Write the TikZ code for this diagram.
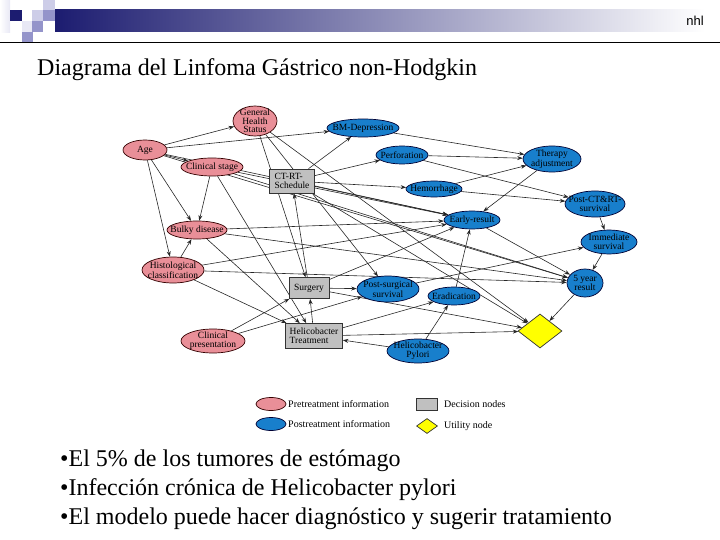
\documentclass[tikz,border=0pt]{standalone}
\usepackage{fontspec}
\setmainfont{Liberation Serif}
\newfontfamily\hdrsans{Liberation Sans}
\usetikzlibrary{shapes.geometric,arrows.meta}
\pgfdeclarelayer{edgelayer}
\pgfsetlayers{edgelayer,main}
\definecolor{pinkfill}{RGB}{233,143,152}
\definecolor{bluefill}{RGB}{24,127,204}
\definecolor{grayfill}{RGB}{192,192,192}
\definecolor{utilyel}{RGB}{255,255,0}
\definecolor{navyhdr}{RGB}{28,28,112}
\definecolor{lavA}{RGB}{148,148,202}
\definecolor{lavB}{RGB}{205,205,232}
\definecolor{lavC}{RGB}{232,232,245}
\tikzset{
  nodefont/.style={font=\fontsize{9.5}{8.6}\selectfont, align=center},
  tx/.style={label={[nodefont, inner sep=0pt]center:#1}},
  pre/.style={ellipse, draw=black!80!red, line width=0.7pt, fill=pinkfill, inner sep=0pt},
  post/.style={ellipse, draw=black!80!blue, line width=0.7pt, fill=bluefill, inner sep=0pt},
  decis/.style={rectangle, draw=black!80, line width=0.7pt, fill=grayfill, inner sep=0pt, nodefont},
  utilnode/.style={diamond, draw=black!80, line width=0.7pt, fill=utilyel, inner sep=0pt},
  arr/.style={-{Stealth[length=5.5pt,width=4pt]}, line width=0.6pt, black!85},
  legtext/.style={anchor=west, inner sep=0pt, font=\fontsize{10}{11}\selectfont},
  bigtext/.style={anchor=base west, inner sep=0pt, font=\fontsize{24}{28}\selectfont}
}
\begin{document}
\begin{tikzpicture}[x=1pt,y=-1pt]
\useasboundingbox (0,0) rectangle (720,540);
% header
\shade[left color=white, right color=lavC] (0,0) rectangle (10,33);
\shade[left color=navyhdr, right color=white] (55,10) rectangle (705,32);
\fill[lavB] (43,0) rectangle (55,10);
\fill[lavB] (32,10) rectangle (43,21);
\fill[lavA] (43,10) rectangle (55,21);
\fill[navyhdr] (10,10) rectangle (22,21);
\fill[lavC] (22,21) rectangle (32,32);
\fill[lavA] (32,21) rectangle (43,32);
\fill[lavA] (22,32) rectangle (33,43);
\draw[line width=0.8pt] (0,42.5) -- (720,42.5);
\node[anchor=east, inner sep=0pt, font=\hdrsans\fontsize{13}{15}\selectfont] (hdr) at (704,21) {nhl};
\node[bigtext] (title) at (37,76) {Diagrama del Linfoma Gástrico non-Hodgkin};

% nodes
\node[pre, minimum width=44pt, minimum height=30pt, tx={General\\Health\\Status}] (ghs) at (255,121) {};
\node[pre, minimum width=44pt, minimum height=20pt, tx={Age}] (age) at (145,150) {};
\node[post, minimum width=72pt, minimum height=18pt, tx={BM-Depression}] (bmd) at (363,128) {};
\node[pre, minimum width=62pt, minimum height=18pt, tx={Clinical stage}] (cs) at (212,167) {};
\node[post, minimum width=52pt, minimum height=18pt, tx={Perforation}] (perf) at (402,155) {};
\node[post, minimum width=58pt, minimum height=26pt, tx={Therapy\\adjustment}] (ther) at (552,159) {};
\node[decis, minimum width=45pt, minimum height=24pt, align=left] (ctrt) at (292,181) {CT-RT-\\Schedule};
\node[post, minimum width=56pt, minimum height=16pt, tx={Hemorrhage}] (hem) at (434,189) {};
\node[post, minimum width=60pt, minimum height=26pt, tx={Post-CT\&RT-\\survival}] (pct) at (595,204) {};
\node[post, minimum width=56pt, minimum height=18pt, tx={Early-result}] (early) at (472,220) {};
\node[pre, minimum width=60pt, minimum height=18pt, tx={Bulky disease}] (bulky) at (197,230) {};
\node[post, minimum width=56pt, minimum height=24pt, tx={Immediate\\survival}] (imm) at (609,242) {};
\node[pre, minimum width=62pt, minimum height=26pt, tx={Histological\\classification}] (hist) at (173,270) {};
\node[post, minimum width=36pt, minimum height=28pt, tx={5 year\\result}] (five) at (585,283) {};
\node[decis, minimum width=40pt, minimum height=21pt] (surg) at (309,288) {Surgery};
\node[post, minimum width=62pt, minimum height=26pt, tx={Post-surgical\\survival}] (pss) at (388,289) {};
\node[post, minimum width=52pt, minimum height=18pt, tx={Eradication}] (erad) at (454,296) {};
\node[utilnode, minimum width=44pt, minimum height=34pt] (util) at (540,331) {};
\node[pre, minimum width=64pt, minimum height=24pt, tx={Clinical\\presentation}] (cp) at (213,341) {};
\node[decis, minimum width=57pt, minimum height=25pt, align=left] (ht) at (314,336) {Helicobacter\\Treatment};
\node[post, minimum width=62pt, minimum height=24pt, tx={Helicobacter\\Pylori}] (hp) at (418,351) {};

% edges
\begin{pgfonlayer}{edgelayer}
\draw[arr] (age) -- (ghs);
\draw[arr] (age) -- (bmd);
\draw[arr] (age) -- (cs);
\draw[arr] (age) -- (bulky);
\draw[arr] (age) -- (hist);
\draw[arr] (age) -- (five);
\draw[arr] (age) -- (early);
\draw[arr] (ghs) -- (surg);
\draw[arr] (ghs) -- (pss);
\draw[arr] (ghs) -- (util);
\draw[arr] (cs) -- (bulky);
\draw[arr] (cs) -- (ht);
\draw[arr] (cs) -- (five);
\draw[arr] (cs) -- (early);
\draw[arr] (bulky) -- (early);
\draw[arr] (bulky) -- (five);
\draw[arr] (bulky) -- (ht);
\draw[arr] (hist) -- (bulky);
\draw[arr] (hist) -- (early);
\draw[arr] (hist) -- (five);
\draw[arr] (hist) -- (ht);
\draw[arr] (cp) -- (surg);
\draw[arr] (cp) -- (pss);
\draw[arr] (hp) -- (ht);
\draw[arr] (hp) -- (erad);
\draw[arr] (ht) -- (surg);
\draw[arr] (ht) -- (erad);
\draw[arr] (ht) -- (util);
\draw[arr] (surg) -- (ctrt);
\draw[arr] (surg) -- (pss);
\draw[arr] (surg) -- (early);
\draw[arr] (surg) -- (util);
\draw[arr] (ctrt) -- (bmd);
\draw[arr] (ctrt) -- (perf);
\draw[arr] (ctrt) -- (hem);
\draw[arr] (ctrt) -- (early);
\draw[arr] (ctrt) -- (util);
\draw[arr] (bmd) -- (ther);
\draw[arr] (perf) -- (ther);
\draw[arr] (perf) -- (pct);
\draw[arr] (hem) -- (ther);
\draw[arr] (hem) -- (pct);
\draw[arr] (ther) -- (early);
\draw[arr] (pct) -- (imm);
\draw[arr] (imm) -- (five);
\draw[arr] (early) -- (five);
\draw[arr] (pss) -- (imm);
\draw[arr] (erad) -- (early);
\draw[arr] (five) -- (util);
\end{pgfonlayer}

% legend
\node[pre, minimum width=30pt, minimum height=13pt] (lgpre) at (271,404) {};
\node[legtext] (lgpret) at (288,404) {Pretreatment information};
\node[post, minimum width=30pt, minimum height=13pt] (lgpost) at (271,424) {};
\node[legtext] (lgpostt) at (288,424) {Postreatment information};
\node[decis, minimum width=21pt, minimum height=12pt] (lgdec) at (427,404) {};
\node[legtext] (lgdect) at (444,404) {Decision nodes};
\node[utilnode, minimum width=21pt, minimum height=15pt] (lgutil) at (427,426) {};
\node[legtext] (lgutilt) at (444,426) {Utility node};

% bullets
\node[bigtext] (b1) at (60,466) {•El 5\% de los tumores de estómago};
\node[bigtext] (b2) at (60,495) {•Infección crónica de Helicobacter pylori};
\node[bigtext] (b3) at (60,524) {•El modelo puede hacer diagnóstico y sugerir tratamiento};
\end{tikzpicture}
\end{document}
